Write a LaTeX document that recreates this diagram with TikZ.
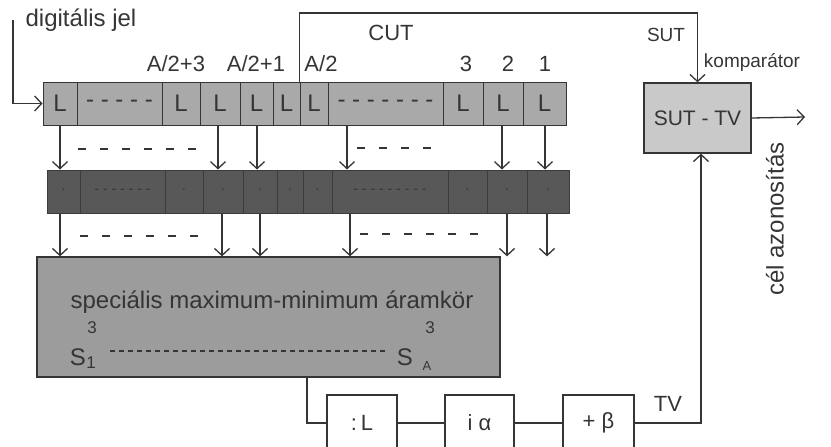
\documentclass[tikz,border=0pt]{standalone}
\usepackage{fontspec}
\setmainfont{Liberation Sans}
\usetikzlibrary{arrows.meta,calc}
\definecolor{ink}{HTML}{353535}
\definecolor{cellgray}{HTML}{A9A9A9}
\definecolor{darkcell}{HTML}{585858}
\definecolor{darkline}{HTML}{3C3C3C}
\definecolor{boxgray}{HTML}{9C9C9C}
\definecolor{sutgray}{HTML}{C9C9C9}
\newcommand{\fs}[1]{\fontsize{#1}{#1}\selectfont}
\begin{document}
\begin{tikzpicture}[x=1pt,y=-1pt,color=ink,line width=1.3pt,
  arr/.style={-{Straight Barb[length=7pt,width=15pt,line width=1.3pt]}},
  cellL/.style={draw=ink,fill=cellgray,minimum height=43pt,inner sep=0pt,line width=1pt,font=\fs{24}},
  cellD/.style={draw=darkline,fill=darkcell,minimum height=43pt,inner sep=0pt,line width=1pt,font=\fs{14}},
  lbl/.style={inner sep=0pt,font=\fs{22}},
  gapdash/.style={line width=1.5pt,dash pattern=on 8pt off 14pt},
  opbox/.style={draw=ink,fill=white,minimum height=56pt,inner sep=0pt,line width=1.3pt,font=\fs{22}}
]
\useasboundingbox (0,0) rectangle (831,447);
\clip (0,0) rectangle (831,447);

% top row of cells
\foreach \n/\a/\b/\t in {t1/43/77/L, t2/77/162/{- - - - -}, t3/162/200/L, t4/200/240/L,
  t5/240/273/L, t6/273/300/L, t7/300/328/L, t8/328/443/{- - - - - - -}, t9/443/483/L,
  t10/483/523/L, t11/523/566/L}{
  \pgfmathsetmacro\w{\b-\a}
  \pgfmathsetmacro\c{(\a+\b)/2}
  \node[cellL,minimum width=\w pt] (\n) at (\c,103.5) {\t};
}
% dark row of cells
\foreach \n/\a/\b/\t in {d1/47/80/·, d2/80/165/{- - - - - - -}, d3/165/203/·, d4/203/243/·,
  d5/243/277/·, d6/277/303/·, d7/303/332/·, d8/332/448/{- - - - - - - - -}, d9/448/487/·,
  d10/487/527/·, d11/527/569/·}{
  \pgfmathsetmacro\w{\b-\a}
  \pgfmathsetmacro\c{(\a+\b)/2}
  \node[cellD,minimum width=\w pt] (\n) at (\c,191.5) {\t};
}

% big box
\node[draw=ink,fill=boxgray,line width=1.3pt,minimum width=463pt,minimum height=120pt,inner sep=0pt] (big) at (268.5,317) {};
\node[lbl,font=\fs{24}] (bigtxt) at (272,302) {speciális maximum-minimum áramkör};
\node[lbl,font=\fs{24}] (s1) at (78,357) {S};
\node[lbl,font=\fs{17}] (s1sup) at (92,328) {3};
\node[lbl,font=\fs{17}] (s1sub) at (91,363) {1};
\node[lbl,font=\fs{24}] (sA) at (405,357) {S};
\node[lbl,font=\fs{17}] (sAsup) at (430,328) {3};
\node[lbl,font=\fs{13}] (sAsub) at (427,366) {A};
\coordinate (dl) at (110,351);
\coordinate (dr) at (387,351);
\draw[line width=1.3pt,dash pattern=on 5pt off 4pt] (dl) -- (dr);

% labels above top row
\node[lbl,font=\fs{24}] (dig) at (81,20) {digitális jel};
\node[lbl] (lA3) at (176,64) {A/2+3};
\node[lbl] (lA1) at (256,64) {A/2+1};
\node[lbl] (lA0) at (321,64) {A/2};
\node[lbl] (lCUT) at (391,33) {CUT};
\node[lbl] (l3) at (466,64) {3};
\node[lbl] (l2) at (508,64) {2};
\node[lbl] (l1) at (545,64) {1};

% comparator
\node[draw=ink,fill=sutgray,line width=1.3pt,minimum width=107pt,minimum height=70pt,inner sep=0pt,font=\fs{21}] (sut) at (697.5,118) {SUT - TV};
\node[lbl,font=\fs{19}] (lSUT) at (666,35) {SUT};
\node[lbl,font=\fs{19}] (lkomp) at (752,62) {komparátor};
\node[lbl,font=\fs{24},rotate=90] (cel) at (775,219) {cél azonosítás};
\coordinate (outEnd) at (805,117);
\draw[arr] (sut.east) -- (outEnd);

% input
\coordinate (inStart) at (13,20);
\draw[arr] (inStart) |- (t1.west);

% CUT line to comparator
\coordinate (cutTop) at (500,13);
\draw[arr] (t7.north west) |- (cutTop) -| (sut.north);

% arrows top row -> dark row
\foreach \x/\a/\b in {60/t1/d1, 218/t4/d4, 257/t5/d5, 347/t8/d8, 502/t10/d10, 545/t11/d11}{
  \draw[arr] (\x,0 |- \a.south) -- (\x,0 |- \b.north);
}
% arrows dark row -> big box
\foreach \x/\a in {60/d1, 222/d4, 260/d5, 350/d8, 507/d10, 547/d11}{
  \draw[arr] (\x,0 |- \a.south) -- (\x,0 |- big.north);
}
% gap dashes
\coordinate (g1a) at (78,149); \coordinate (g1b) at (200,149);
\coordinate (g1c) at (357,148); \coordinate (g1d) at (445,148);
\coordinate (g2a) at (80,236); \coordinate (g2b) at (205,236);
\coordinate (g2c) at (360,234); \coordinate (g2d) at (487,234);
\draw[gapdash] (g1a) -- (g1b);
\draw[gapdash] (g1c) -- (g1d);
\draw[gapdash] (g2a) -- (g2b);
\draw[gapdash] (g2c) -- (g2d);

% bottom chain
\node[opbox,minimum width=70pt] (b1) at (362,423) {:\,L};
\node[opbox,minimum width=69pt] (b2) at (479.5,423) {i α};
\node[opbox,minimum width=71pt] (b3) at (598.5,423) {+ β};
\draw (307,0 |- big.south) |- (b1.west);
\draw (b1.east) -- (b2.west);
\draw (b2.east) -- (b3.west);
\draw[arr] (b3.east) -| (701,0 |- sut.south);
\node[lbl] (lTV) at (668,404) {TV};
\end{tikzpicture}
\end{document}
